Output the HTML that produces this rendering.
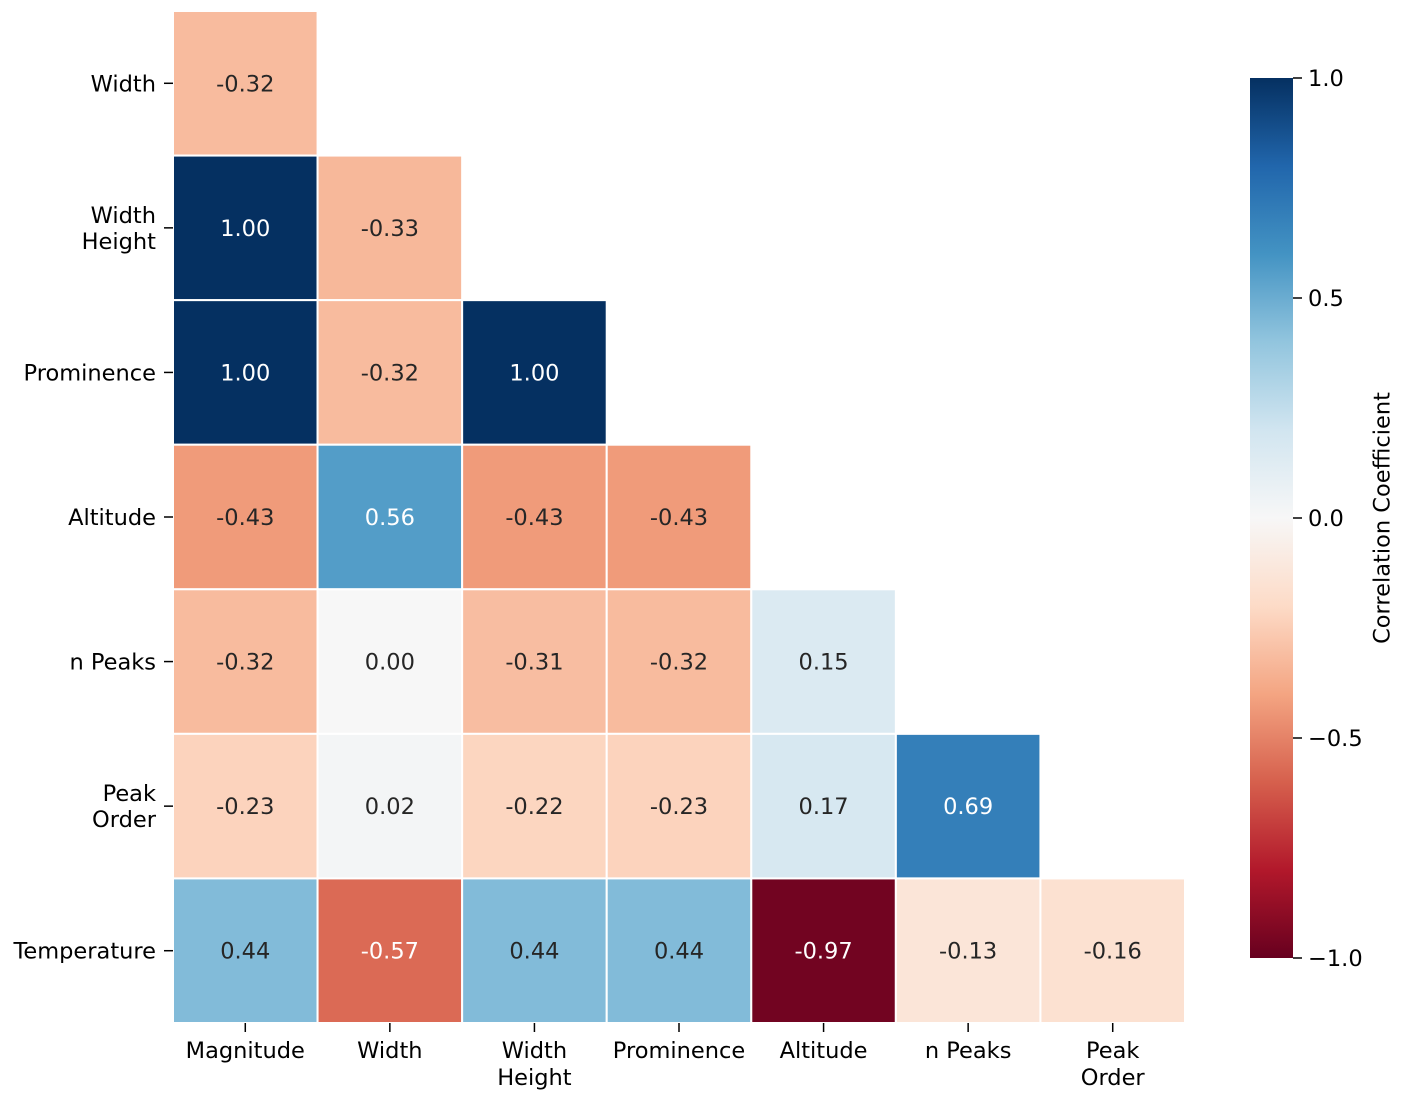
<!DOCTYPE html>
<html><head><meta charset="utf-8"><style>
html,body{margin:0;padding:0;background:#fff;}
svg{display:block;font-family:"DejaVu Sans","Liberation Sans",sans-serif;}
</style></head><body>
<svg id="chart" width="1402" height="1102" viewBox="0 0 1402 1102">
<defs>
<linearGradient id="cbgrad" x1="0" y1="1" x2="0" y2="0">
<stop offset="0" stop-color="#67001f"/><stop offset="0.1" stop-color="#b2182b"/><stop offset="0.2" stop-color="#d6604d"/><stop offset="0.3" stop-color="#f4a582"/><stop offset="0.4" stop-color="#fddbc7"/><stop offset="0.5" stop-color="#f7f7f7"/><stop offset="0.6" stop-color="#d1e5f0"/><stop offset="0.7" stop-color="#92c5de"/><stop offset="0.8" stop-color="#4393c3"/><stop offset="0.9" stop-color="#2166ac"/><stop offset="1" stop-color="#053061"/>
</linearGradient>
</defs>
<g id="cells"></g>
<g id="yaxis"></g>
<g id="xaxis"></g>
<g id="colorbar">
<rect x="1250" y="78" width="43" height="880" fill="url(#cbgrad)"/>
</g>
<text x="1383" y="518" font-size="22.5" text-anchor="middle" transform="rotate(-90 1383 518)" fill="#000" dominant-baseline="middle">Correlation Coefficient</text>
</svg>
<script>
const rowLabels = [["Width"],["Width","Height"],["Prominence"],["Altitude"],["n Peaks"],["Peak","Order"],["Temperature"]];
const colLabels = [["Magnitude"],["Width"],["Width","Height"],["Prominence"],["Altitude"],["n Peaks"],["Peak","Order"]];
const values = [
 [-0.32],
 [1.00,-0.33],
 [1.00,-0.32,1.00],
 [-0.43,0.56,-0.43,-0.43],
 [-0.32,0.00,-0.31,-0.32,0.15],
 [-0.23,0.02,-0.22,-0.23,0.17,0.69],
 [0.44,-0.57,0.44,0.44,-0.97,-0.13,-0.16]
];
const cbTicks = [1.0,0.5,0.0,-0.5,-1.0];
const cbTickLabels = ["1.0","0.5","0.0","\u22120.5","\u22121.0"];

const NS="http://www.w3.org/2000/svg";
const FS=22.5;
const x0=173,y0=11,cw=1012/7,ch=1012/7;
const stops=["#67001f","#b2182b","#d6604d","#f4a582","#fddbc7","#f7f7f7","#d1e5f0","#92c5de","#4393c3","#2166ac","#053061"];
function hex(h){return [1,3,5].map(i=>parseInt(h.substr(i,2),16));}
function color(v){let t=(v+1)/2*10;t=Math.max(0,Math.min(10,t));let i=Math.min(9,Math.floor(t)),f=t-i;
 const a=hex(stops[i]),b=hex(stops[i+1]);const c=a.map((x,k)=>Math.round(x+(b[k]-x)*f));return c;}
function xs(c){return x0+c*cw;} function ys(r){return y0+r*ch;}
function mk(tag,attrs,parent){const e=document.createElementNS(NS,tag);for(const k in attrs)e.setAttribute(k,attrs[k]);parent.appendChild(e);return e;}
const cells=document.getElementById('cells');
values.forEach((row,r)=>row.forEach((v,c)=>{
 const col=color(v);
 const rect=mk('rect',{x:xs(c),y:ys(r),width:cw,height:ch,fill:`rgb(${col})`,stroke:'#fff','stroke-width':2},cells);
 
 
 const lum=(0.299*col[0]+0.587*col[1]+0.114*col[2]);
 const t=mk('text',{x:xs(c)+cw/2,y:ys(r)+ch/2+8,'font-size':FS,'text-anchor':'middle',fill:lum<140?'#fff':'#262626'},cells);
 t.textContent=v.toFixed(2);
 
 
}));
const ya=document.getElementById('yaxis');
rowLabels.forEach((lab,r)=>{
 const cy=ys(r)+ch/2;
 const tk=mk('line',{x1:164,x2:173,y1:cy,y2:cy,stroke:'#000','stroke-width':1.5},ya);
 
 
 const t=mk('text',{x:156,'font-size':FS,'text-anchor':'end',fill:'#000'},ya);
 
 
 lab.forEach((s,i)=>{const sp=mk('tspan',{x:156,y:cy+8+(i-(lab.length-1)/2)*26},t);sp.textContent=s;});
});
const xa=document.getElementById('xaxis');
colLabels.forEach((lab,c)=>{
 const cx=xs(c)+cw/2;
 const tk=mk('line',{x1:cx,x2:cx,y1:1023,y2:1032,stroke:'#000','stroke-width':1.5},xa);
 
 
 const t=mk('text',{x:cx,'font-size':FS,'text-anchor':'middle',fill:'#000'},xa);
 
 
 lab.forEach((s,i)=>{const sp=mk('tspan',{x:cx,y:1058+i*27},t);sp.textContent=s;});
});
const cb=document.getElementById('colorbar');
function cby(v){return 958-(v+1)/2*880;}
cbTicks.forEach((v,i)=>{
 const y=cby(v);
 const tk=mk('line',{x1:1293,x2:1302,y1:y,y2:y,stroke:'#000','stroke-width':1.5},cb);
 
 
 const t=mk('text',{x:1308,y:y+8,'font-size':FS,fill:'#000'},cb);
 t.textContent=cbTickLabels[i];
 
 
});
</script>
</body></html>
